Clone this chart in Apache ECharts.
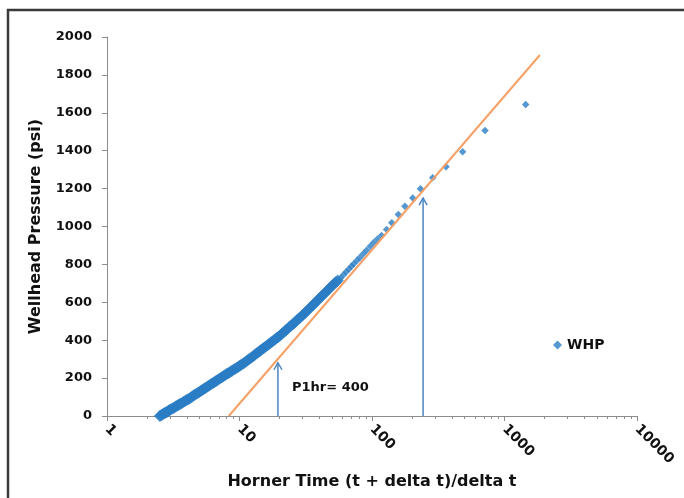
<!DOCTYPE html>
<html>
<head>
<meta charset="utf-8">
<script src="https://cdn.jsdelivr.net/npm/echarts@6/dist/echarts.min.js"></script>
<style>
  html, body { margin: 0; padding: 0; background: #fff; }
  #chart { width: 684px; height: 498px; }
</style>
</head>
<body>
<div id="chart"></div>
<script>
  // Horner plot: wellhead pressure vs Horner time
  var hornerTime = [2.5, 2.55, 2.6, 2.65, 2.7, 2.75, 2.8, 2.85, 2.9, 2.95,
    3.0, 3.07, 3.15, 3.22, 3.3, 3.37, 3.45, 3.52, 3.6, 3.7,
    3.8, 3.9, 4.0, 4.1, 4.2, 4.3, 4.4, 4.5, 4.6, 4.72,
    4.85, 4.97, 5.1, 5.22, 5.35, 5.47, 5.6, 5.75, 5.9, 6.05,
    6.2, 6.35, 6.5, 6.65, 6.8, 7.0, 7.2, 7.4, 7.6, 7.8,
    8.0, 8.2, 8.4, 8.6, 8.8, 9.05, 9.3, 9.55, 9.8, 10.05,
    10.3, 10.6, 10.9, 11.2, 11.5, 11.8, 12.1, 12.45, 12.8, 13.15,
    13.5, 13.85, 14.2, 14.6, 15.0, 15.4, 15.8, 16.25, 16.7, 17.15,
    17.6, 18.1, 18.6, 19.1, 19.6, 20.15, 20.7, 21.3, 21.9, 22.5,
    23.1, 23.75, 24.4, 25.1, 25.8, 26.5, 27.2, 27.95, 28.7, 29.5,
    30.3, 31.15, 32.0, 32.9, 33.8, 34.75, 35.7, 36.7, 37.7, 38.75,
    39.8, 40.9, 42.0, 43.2, 44.4, 45.65, 46.9, 48.2, 49.5, 50.9,
    52.3, 53.7, 55.2,
    58, 61, 64, 67, 70, 73, 77, 81, 86, 91, 97, 103, 110,
    118, 129, 141, 158, 177, 203, 232, 287, 362, 483, 713, 1445]
  var whp = [0, 3, 7, 10, 14, 17, 20, 23, 26, 30,
    33, 37, 41, 45, 50, 54, 58, 62, 65, 70,
    75, 80, 84, 89, 93, 98, 103, 108, 112, 117,
    122, 127, 132, 137, 141, 146, 150, 156, 161, 166,
    171, 176, 180, 185, 189, 195, 200, 206, 211, 216,
    221, 226, 230, 235, 239, 245, 250, 255, 260, 265,
    270, 276, 281, 288, 294, 300, 305, 312, 318, 325,
    331, 337, 342, 349, 355, 361, 367, 374, 380, 386,
    392, 399, 405, 411, 417, 424, 431, 439, 446, 454,
    461, 469, 476, 483, 490, 498, 506, 513, 520, 528,
    535, 543, 551, 560, 568, 577, 585, 593, 601, 610,
    618, 626, 634, 643, 651, 660, 668, 677, 685, 693,
    700, 708, 715,
    728, 745, 761, 776, 790, 803, 820, 837, 856, 875, 896, 915, 934,
    952, 984, 1020, 1063, 1107, 1151, 1199, 1257, 1315, 1394, 1507, 1644]

  // straight-line fit (semi-log)
  var fitX = [8.3, 1850]
  var fitP = [0, 1905]

  // arrows: x position, from pressure, to pressure
  var arrowX = [19.5, 243]
  var arrowFrom = [0, 0]
  var arrowTo = [281, 1150]

  var yTicks = { min: 0, max: 2000, interval: 200 }
  var xTicks = { min: 1, max: 10000 }

  var font = 'DejaVu Sans'
  var blue = '#2a7dc4'

  var chart = echarts.init(document.getElementById('chart'))

  chart.setOption({
    animation: false,
    backgroundColor: '#fff',
    grid: { left: 107, right: 47, top: 37, bottom: 82 },
    legend: {
      left: 548,
      top: 333,
      itemWidth: 9,
      itemHeight: 9,
      data: ['WHP'],
      textStyle: { fontFamily: font, fontWeight: 'bold', fontSize: 14, color: '#111' }
    },
    xAxis: {
      type: 'log',
      logBase: 10,
      min: xTicks.min,
      max: xTicks.max,
      name: 'Horner Time (t + delta t)/delta t',
      nameLocation: 'middle',
      nameGap: 56,
      nameTextStyle: { fontFamily: font, fontWeight: 'bold', fontSize: 16, color: '#111' },
      axisLine: { lineStyle: { color: '#8c8c8c', width: 1 } },
      axisTick: { length: 5, lineStyle: { color: '#8c8c8c' } },
      minorTick: { show: true, splitNumber: 9, length: 3, lineStyle: { color: '#8c8c8c' } },
      splitLine: { show: false },
      axisLabel: {
        rotate: -45,
        margin: 11,
        fontFamily: font,
        fontWeight: 'bold',
        fontSize: 14,
        color: '#111',
        formatter: function (v) { return String(Math.round(v)) }
      }
    },
    yAxis: {
      type: 'value',
      min: yTicks.min,
      max: yTicks.max,
      interval: yTicks.interval,
      name: 'Wellhead Pressure (psi)',
      nameLocation: 'middle',
      nameGap: 63,
      nameTextStyle: { fontFamily: font, fontWeight: 'bold', fontSize: 16, color: '#111' },
      axisLine: { show: true, lineStyle: { color: '#8c8c8c', width: 1 } },
      axisTick: { show: true, length: 5, lineStyle: { color: '#8c8c8c' } },
      splitLine: { show: false },
      axisLabel: {
        margin: 15,
        fontFamily: font,
        fontWeight: 'bold',
        fontSize: 13,
        color: '#111',
        formatter: function (v) { return String(v) }
      }
    },
    series: [
      {
        name: 'WHP',
        type: 'scatter',
        symbol: 'diamond',
        // early points overlap into a thick band
        symbolSize: function (val) { return val[0] < 56 ? 12 : 7.5 },
        itemStyle: { color: blue },
        data: hornerTime.map(function (t, i) { return [t, whp[i]] }),
        z: 2
      },
      {
        name: 'fit',
        type: 'line',
        symbol: 'none',
        lineStyle: { color: '#f4a066', width: 2 },
        data: fitX.map(function (t, i) { return [t, fitP[i]] }),
        z: 3
      },
      {
        name: 'arrows',
        type: 'custom',
        data: arrowX.map(function (t, i) { return [t, arrowFrom[i], arrowTo[i]] }),
        encode: { x: 0, y: [1, 2] },
        z: 4,
        renderItem: function (params, api) {
          var p0 = api.coord([api.value(0), api.value(1)])
          var p1 = api.coord([api.value(0), api.value(2)])
          var st = { stroke: '#4a86c5', lineWidth: 1.5, fill: null }
          return {
            type: 'group',
            children: [
              { type: 'line', shape: { x1: p0[0], y1: p0[1], x2: p1[0], y2: p1[1] }, style: st },
              {
                type: 'polyline',
                shape: { points: [[p1[0] - 4, p1[1] + 7], [p1[0], p1[1]], [p1[0] + 4, p1[1] + 7]] },
                style: st
              }
            ]
          }
        }
      }
    ],
    graphic: [
      {
        type: 'rect',
        shape: { x: 8, y: 10, width: 720, height: 520 },
        style: { fill: null, stroke: '#3a3a3a', lineWidth: 2.5 },
        silent: true
      },
      {
        type: 'text',
        left: 292,
        top: 381,
        style: { text: 'P1hr= 400', font: 'bold 13px "DejaVu Sans"', fill: '#111' }
      }
    ]
  })
</script>
</body>
</html>
